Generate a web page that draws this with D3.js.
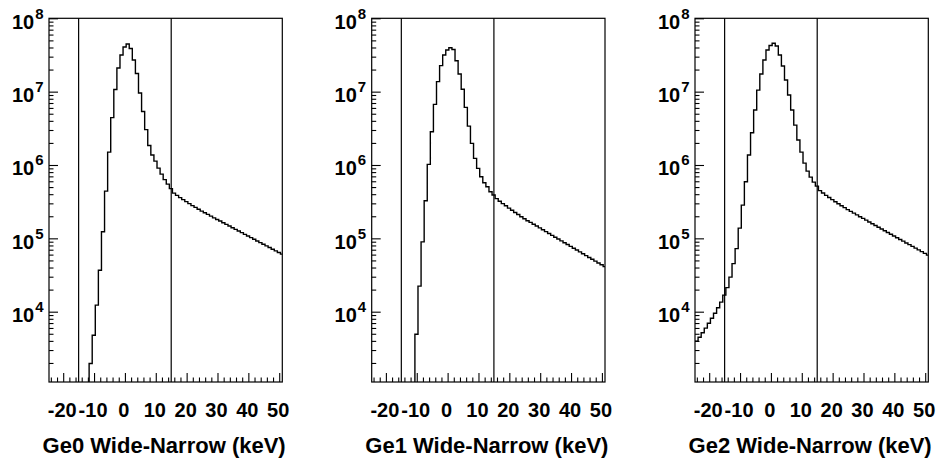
<!DOCTYPE html>
<html>
<head>
<meta charset="utf-8">
<script src="https://cdn.jsdelivr.net/npm/d3@7"></script>
<style>
  body { margin: 0; background: #fff; }
  svg { display: block; }
</style>
</head>
<body>
<svg id="chart" width="940" height="464"></svg>
<script>
// Wide-minus-narrow energy difference spectra, one panel per germanium detector.
const detectors = ["Ge0", "Ge1", "Ge2"];
const axisTitle = " Wide-Narrow (keV)";

// Histogram binning: 1 keV bins, first lower edge at -24.6 keV
const binStart = -24.6;
const binWidth = 1;

// Counts per bin (76 bins)
const ge0Counts = [
  0, 0, 0, 0, 0, 0, 0, 0, 0, 0, 0, 0, 0,
  1970, 4780, 12300, 36800, 123000, 440000, 1.50e6, 4.43e6, 1.07e7, 2.10e7,
  3.16e7, 4.06e7, 4.46e7, 3.87e7, 2.70e7, 1.77e7, 9.57e6, 5.35e6, 3.04e6, 1.84e6,
  1.37e6, 1.13e6, 9.07e5, 7.51e5, 6.32e5, 5.49e5, 4.76e5, 4.14e5,
  3.85e5, 3.59e5, 3.37e5, 3.17e5, 2.97e5, 2.79e5, 2.64e5, 2.49e5, 2.35e5, 2.23e5,
  2.12e5, 2.01e5, 1.90e5, 1.81e5, 1.72e5, 1.63e5, 1.548e5, 1.47e5, 1.395e5, 1.325e5,
  1.258e5, 1.195e5, 1.134e5, 1.077e5, 1.022e5, 9.71e4, 9.22e4, 8.75e4, 8.31e4, 7.89e4,
  7.49e4, 7.11e4, 6.75e4, 6.41e4, 6.09e4
];
const ge1Counts = [
  0, 0, 0, 0, 0, 0, 0, 0, 0, 0, 0, 0, 0, 0,
  4930, 22300, 89600, 3.25e5, 1.02e6, 2.84e6, 6.71e6, 1.37e7, 2.26e7,
  3.16e7, 3.69e7, 3.97e7, 3.75e7, 2.64e7, 1.74e7, 1.08e7, 6.11e6, 3.39e6, 1.97e6,
  1.23e6, 8.99e5, 6.90e5, 5.72e5, 5.04e5, 4.31e5, 3.89e5, 3.48e5,
  3.21e5, 2.97e5, 2.78e5, 2.58e5, 2.41e5, 2.25e5, 2.11e5, 1.97e5, 1.85e5, 1.74e5,
  1.65e5, 1.56e5, 1.47e5, 1.39e5, 1.31e5, 1.233e5, 1.164e5, 1.098e5, 1.036e5, 9.78e4,
  9.23e4, 8.71e4, 8.23e4, 7.77e4, 7.33e4, 6.92e4, 6.53e4, 6.16e4, 5.82e4, 5.49e4,
  5.18e4, 4.89e4, 4.62e4, 4.36e4, 4.11e4
];
const ge2Counts = [
  3960, 4490, 5170, 5960, 6970, 8150, 9540, 11300, 13500, 16800, 21300,
  29600, 45200, 72400, 1.38e5, 2.84e5, 5.90e5, 1.37e6, 2.75e6, 5.61e6, 1.05e7,
  1.74e7, 2.70e7, 3.69e7, 4.26e7, 4.56e7, 4.19e7, 3.16e7, 2.24e7, 1.44e7, 8.99e6,
  5.61e6, 3.50e6, 2.19e6, 1.50e6, 1.06e6, 8.26e5, 6.84e5, 5.84e5, 5.15e5, 4.47e5,
  4.15e5, 3.85e5, 3.60e5, 3.37e5, 3.16e5, 2.96e5, 2.78e5, 2.62e5, 2.46e5, 2.33e5,
  2.21e5, 2.09e5, 1.97e5, 1.87e5, 1.77e5, 1.671e5, 1.582e5, 1.498e5, 1.418e5, 1.342e5,
  1.271e5, 1.203e5, 1.139e5, 1.078e5, 1.021e5, 9.66e4, 9.15e4, 8.66e4, 8.20e4, 7.76e4,
  7.35e4, 6.96e4, 6.58e4, 6.23e4, 5.90e4
];
const histograms = [ge0Counts, ge1Counts, ge2Counts];

// Selection window edges (keV)
const cutLines = [-15, 15];

// Axis ticks
const xMajorTicks = [-20, -10, 0, 10, 20, 30, 40, 50];
const xMinorTicks = [-24, -22, -18, -16, -14, -12, -8, -6, -4, -2, 2, 4, 6, 8,
                     12, 14, 16, 18, 22, 24, 26, 28, 32, 34, 36, 38, 42, 44, 46, 48];
const yDecadeExponents = [4, 5, 6, 7, 8];
const yMinorMantissas = [2, 3, 4, 5, 6, 7, 8, 9];

// Frame geometry
const frameLefts = [49, 371.7, 695];
const frameWidth = 233.3;
const frameTop = 18.3;
const frameBottom = 382;
const xDomain = [-24.6, 51.0];
const yDomain = [1.1e3, 1e8];

const FONT = "'Liberation Sans', Arial, Helvetica, sans-serif";
const svg = d3.select("#chart");
const defs = svg.append("defs");

detectors.forEach((name, p) => {
  const left = frameLefts[p];
  const right = left + frameWidth;
  const x = d3.scaleLinear().domain(xDomain).range([left, right]);
  const y = d3.scaleLog().domain(yDomain).range([frameBottom, frameTop]);
  const g = svg.append("g");

  const clipId = "frame-clip-" + p;
  defs.append("clipPath").attr("id", clipId)
    .append("rect")
    .attr("x", left).attr("y", frameTop)
    .attr("width", frameWidth).attr("height", frameBottom - frameTop);

  // Histogram drawn as a step outline
  const counts = histograms[p];
  const pts = counts.map((c, i) => [binStart + i * binWidth, c]);
  pts.push([binStart + counts.length * binWidth, counts[counts.length - 1]]);
  const step = d3.line()
    .x(d => x(d[0]))
    .y(d => d[1] > 0 ? y(Math.max(d[1], yDomain[0])) : frameBottom + 2)
    .curve(d3.curveStepAfter);
  g.append("path")
    .attr("d", step(pts))
    .attr("clip-path", `url(#${clipId})`)
    .attr("fill", "none")
    .attr("stroke", "#000")
    .attr("stroke-width", 1.4);

  // Window edges
  g.selectAll(".cut").data(cutLines).enter().append("line")
    .attr("x1", d => x(d)).attr("x2", d => x(d))
    .attr("y1", frameTop).attr("y2", frameBottom)
    .attr("stroke", "#000").attr("stroke-width", 1.2);

  // Frame box
  g.append("rect")
    .attr("x", left).attr("y", frameTop)
    .attr("width", frameWidth).attr("height", frameBottom - frameTop)
    .attr("fill", "none").attr("stroke", "#000").attr("stroke-width", 1.2);

  // X axis: minor ticks, then major ticks with labels
  const xMinor = g.append("g").attr("transform", `translate(0,${frameBottom})`)
    .call(d3.axisBottom(x).tickValues(xMinorTicks).tickSize(-4.5).tickFormat(""));
  xMinor.select(".domain").remove();
  const xMajor = g.append("g").attr("transform", `translate(0,${frameBottom})`)
    .call(d3.axisBottom(x).tickValues(xMajorTicks).tickSize(-9).tickPadding(21)
      .tickFormat(d => String(d)));
  xMajor.select(".domain").remove();
  xMajor.selectAll("text")
    .attr("dx", -1.5)
    .attr("font-family", FONT).attr("font-weight", "bold").attr("font-size", 20)
    .attr("fill", "#000");

  // Y axis: log minor ticks, then decade ticks labelled 10^n
  const yMinorValues = [];
  for (let n = 3; n <= 7; n++) {
    yMinorMantissas.forEach(m => {
      const v = m * Math.pow(10, n);
      if (v > yDomain[0] && v < yDomain[1]) yMinorValues.push(v);
    });
  }
  const yMinor = g.append("g").attr("transform", `translate(${left},0)`)
    .call(d3.axisLeft(y).tickValues(yMinorValues).tickSize(-4.5).tickFormat(""));
  yMinor.select(".domain").remove();
  const yMajor = g.append("g").attr("transform", `translate(${left},0)`)
    .call(d3.axisLeft(y).tickValues(yDecadeExponents.map(e => Math.pow(10, e)))
      .tickSize(-9).tickPadding(5.5).tickFormat(""));
  yMajor.select(".domain").remove();
  yMajor.selectAll(".tick text").each(function (d) {
    const t = d3.select(this)
      .attr("font-family", FONT).attr("font-weight", "bold").attr("font-size", 20)
      .attr("fill", "#000").attr("dy", "0.5em");
    t.append("tspan").text("10");
    t.append("tspan").attr("dx", 1).attr("dy", -10).attr("font-size", 15)
      .text(Math.round(Math.log10(d)));
  });
  g.selectAll(".tick line").attr("stroke", "#000").attr("stroke-width", 1.1);

  // Axis title
  g.append("text")
    .attr("x", left + frameWidth / 2 - 1.5)
    .attr("y", 452.7)
    .attr("text-anchor", "middle")
    .attr("font-family", FONT).attr("font-weight", "bold").attr("font-size", 22)
    .attr("fill", "#000")
    .text(name + axisTitle);
});
</script>
</body>
</html>
